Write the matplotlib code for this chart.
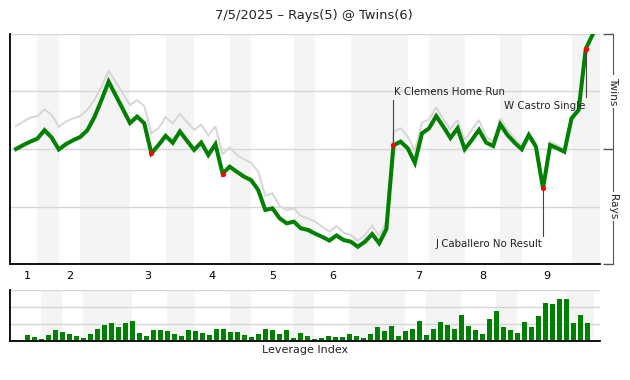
import matplotlib

matplotlib.use("Agg")
import matplotlib.pyplot as plt
import numpy as np

# win probability (home team, %) after each play, index 0 = first pitch
wp_green = [
    50.0, 51.7, 53.2, 54.5, 58.2, 55.0, 49.8, 52.1, 53.8, 55.2,
    58.1, 63.8, 71.3, 79.3, 73.3, 67.3, 61.3, 64.1, 61.2, 48.1,
    51.7, 55.7, 52.7, 57.6, 53.6, 49.6, 52.8, 47.4, 52.1, 39.3,
    42.3, 40.1, 38.0, 36.5, 32.2, 23.5, 24.2, 19.9, 17.7, 18.4,
    15.5, 14.8, 13.2, 11.8, 10.2, 12.4, 10.4, 9.7, 7.5, 9.7,
    13.0, 9.0, 15.2, 51.6, 53.2, 50.3, 44.0, 56.8, 59.0, 64.3,
    59.7, 54.8, 59.0, 49.9, 53.9, 58.3, 52.8, 51.3, 60.7, 56.1,
    52.8, 49.9, 56.1, 51.0, 32.9, 51.7, 50.3, 48.8, 63.3, 67.0,
    93.5, 100.0,
]
wp_gray = [
    60.0, 61.9, 63.6, 64.3, 67.2, 64.8, 59.7, 61.9, 63.3, 64.3,
    67.0, 71.3, 77.1, 84.1, 79.1, 74.1, 69.1, 71.3, 68.7, 56.8,
    59.0, 63.8, 61.2, 65.2, 61.8, 58.4, 60.5, 55.9, 59.8, 47.7,
    50.7, 47.4, 45.5, 44.0, 40.1, 29.6, 30.7, 25.2, 23.5, 24.2,
    20.9, 19.8, 18.4, 16.2, 14.1, 16.5, 13.6, 12.6, 10.1, 12.6,
    16.7, 12.2, 18.4, 57.5, 59.0, 55.4, 49.3, 61.4, 62.9, 68.1,
    62.9, 58.6, 62.6, 53.9, 58.3, 62.6, 55.4, 53.2, 63.3, 58.3,
    54.6, 51.7, 56.8, 52.5, 33.6, 53.2, 51.7, 49.6, 63.3, 67.0,
    93.5, 100.0,
]
leverage = [
    0.34, 0.22, 0.10, 0.34, 0.64, 0.54, 0.42, 0.30, 0.16, 0.40,
    0.70, 0.94, 1.02, 0.78, 1.02, 1.18, 0.48, 0.30, 0.64, 0.64,
    0.60, 0.42, 0.30, 0.64, 0.60, 0.48, 0.36, 0.70, 0.66, 0.54,
    0.54, 0.36, 0.24, 0.42, 0.70, 0.64, 0.42, 0.64, 0.16, 0.48,
    0.28, 0.12, 0.16, 0.28, 0.22, 0.22, 0.40, 0.28, 0.16, 0.40,
    0.82, 0.58, 0.88, 0.28, 0.58, 0.70, 1.18, 0.34, 0.70, 1.12,
    0.94, 0.70, 1.54, 0.88, 0.64, 0.40, 1.30, 1.72, 0.82, 0.64,
    0.46, 1.12, 0.82, 1.48, 2.20, 2.14, 2.44, 2.44, 1.06, 1.54,
    1.06,
]
key_plays = [19, 29, 53, 74, 80]
# bottom halves of each inning (play index boundaries)
bottom_halves = [(3, 6), (9, 16), (21, 25), (30, 33), (39, 42),
                 (47, 55), (58, 63), (68, 71), (78, 82)]
inning_pos = [1.6, 7.5, 18.5, 27.5, 36, 44.5, 56.5, 65.5, 74.5]
inning_labels = ["1", "2", "3", "4", "5", "6", "7", "8", "9"]
# (play, text, line end, text y, alignment)
notes = [
    (53, "K Clemens Home Run", 71.3, 74.8, "left"),
    (80, "W Castro Single", 72.6, 68.7, "right"),
    (74, "J Caballero No Result", 12.2, 8.6, "right"),
]

GREEN = "#008000"
BAND = "#f4f4f4"
GRID = "#d6d6d6"

fig = plt.figure(figsize=(6.3, 3.8), dpi=100)
ax = fig.add_axes([10 / 630, 116 / 380, 590 / 630, 230 / 380])
bx = fig.add_axes([10 / 630, 39.3 / 380, 590 / 630, 51 / 380])

plays = np.arange(len(wp_green))
ax.set_xlim(-0.85, 82)
ax.set_ylim(0, 100)
for a, b in bottom_halves:
    ax.axvspan(a, b, color=BAND, lw=0, zorder=0)
ax.set_axisbelow(True)
ax.set_yticks([25, 50, 75, 100])
ax.yaxis.grid(True, color=GRID, lw=1)
ax.tick_params(axis="y", length=0, labelleft=False)
ax.set_xticks(inning_pos, inning_labels, fontsize=8)
ax.tick_params(axis="x", length=0, pad=5)
for side in ("top", "right"):
    ax.spines[side].set_visible(False)
for side in ("left", "bottom"):
    ax.spines[side].set_color("black")
    ax.spines[side].set_linewidth(1.3)

ax.plot(plays, wp_gray, color="#d6d6d6", lw=1.4, zorder=2, solid_joinstyle="miter")
ax.plot(plays, wp_green, color=GREEN, lw=2.9, zorder=3, solid_joinstyle="miter")
ax.plot(key_plays, [wp_green[k] for k in key_plays], "o", color="red",
        ms=3.8, mec="none", zorder=4)

for k, label, end, ty, ha in notes:
    ax.plot([k, k], [wp_green[k], end], color="#444444", lw=0.8, zorder=3.5)
    tx = k + 0.1 if ha == "left" else k - 0.1
    ax.text(tx, ty, label, fontsize=7.4, ha=ha, va="center", color="#222222")

sec = ax.secondary_yaxis(1.022)
sec.set_yticks([0, 50, 100])
sec.tick_params(direction="in", length=7.2, width=1, color="#555555", labelright=False)
sec.spines["right"].set_color("#555555")
trans = ax.get_yaxis_transform()
for y, label in [(75, "Twins"), (25, "Rays")]:
    ax.text(1.022, y, label, transform=trans, rotation=270, fontsize=7.6,
            ha="center", va="center", color="#222222",
            bbox=dict(fc="white", ec="none", pad=1.5), clip_on=False)

fig.text(0.499, 1 - 15 / 380, "7/5/2025 – Rays(5) @ Twins(6)", fontsize=9.4,
         ha="center", va="center", color="#222222")

bar_idx = np.arange(1, len(leverage) + 1)
bx.set_xlim(-1.47, 82.83)
bx.set_ylim(0, 3)
for a, b in bottom_halves:
    bx.axvspan(a, b, color=BAND, lw=0, zorder=0)
bx.set_axisbelow(True)
bx.set_yticks([1, 2, 3])
bx.yaxis.grid(True, color=GRID, lw=1)
bx.tick_params(axis="y", length=0, labelleft=False)
bx.set_xticks([])
bx.bar(bar_idx, leverage, width=0.72, color=GREEN, zorder=2)
for side in ("top", "right"):
    bx.spines[side].set_visible(False)
for side in ("left", "bottom"):
    bx.spines[side].set_color("black")
    bx.spines[side].set_linewidth(1.3)
bx.set_xlabel("Leverage Index", fontsize=8, labelpad=3, color="#222222")

fig.savefig("out.png", dpi=100)
